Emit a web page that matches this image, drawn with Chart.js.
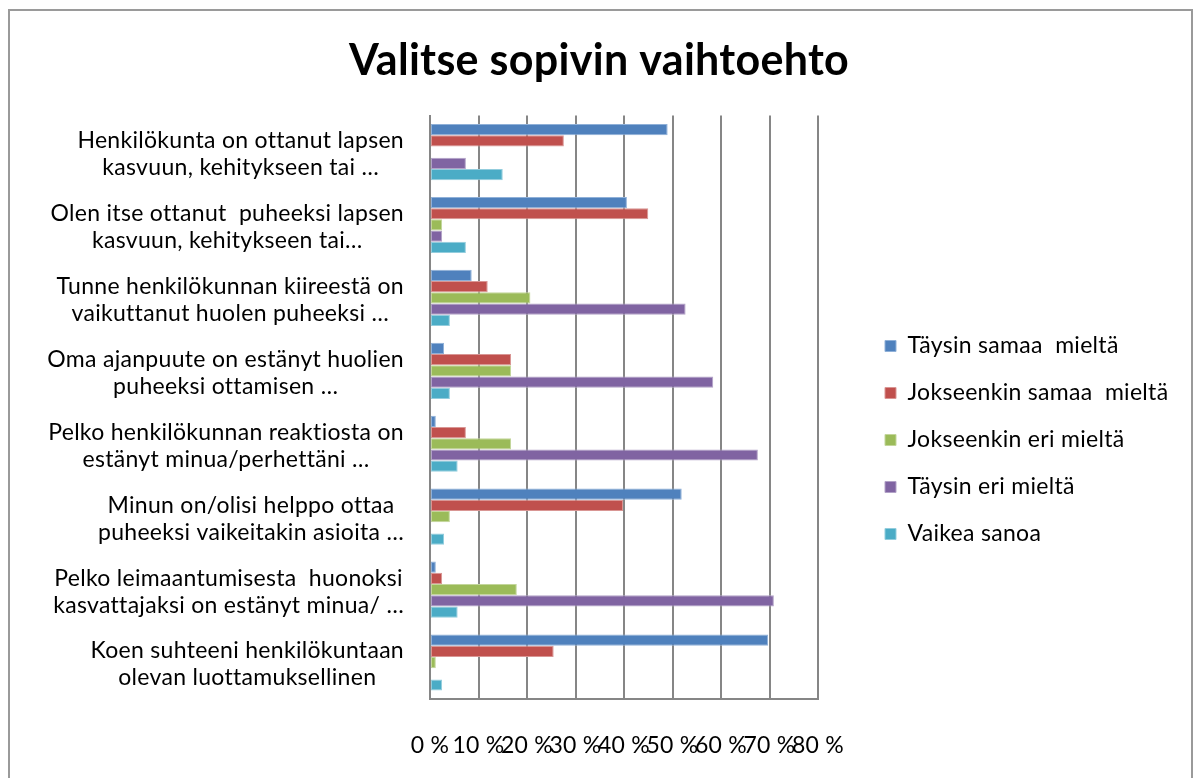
<!DOCTYPE html>
<html>
<head>
<meta charset="utf-8">
<script src="https://cdn.jsdelivr.net/npm/chart.js@4.4.1/dist/chart.umd.min.js"></script>
<style>
    html, body { margin: 0; padding: 0; background: #fff; }
    #wrap { position: relative; width: 1198px; height: 778px; overflow: hidden; }
    #frame { position: absolute; left: 8px; top: 9px; width: 1185px; height: 800px; border: 2px solid #9a9a9a; box-sizing: border-box; }
    #chart { position: absolute; left: 0; top: 0; }
</style>
</head>
<body>
<div id="wrap">
    <div id="frame"></div>
    <canvas id="chart" width="1198" height="778"></canvas>
</div>
<script>
// Kysymykset (kaksi riviä per kategoria)
const categories = [
    ['Henkilökunta on ottanut lapsen', 'kasvuun, kehitykseen tai …'],
    ['Olen itse ottanut  puheeksi lapsen', 'kasvuun, kehitykseen tai…'],
    ['Tunne henkilökunnan kiireestä on', 'vaikuttanut huolen puheeksi …'],
    ['Oma ajanpuute on estänyt huolien', 'puheeksi ottamisen …'],
    ['Pelko henkilökunnan reaktiosta on', 'estänyt minua/perhettäni …'],
    ['Minun on/olisi helppo ottaa', 'puheeksi vaikeitakin asioita …'],
    ['Pelko leimaantumisesta  huonoksi', 'kasvattajaksi on estänyt minua/ …'],
    ['Koen suhteeni henkilökuntaan', 'olevan luottamuksellinen']
];

// Sarjat (prosentteina)
const taysinSamaa = [49, 40.6, 8.6, 2.9, 1.2, 51.9, 1.2, 69.7];
const jokseenkinSamaa = [27.6, 45, 11.9, 16.7, 7.4, 39.8, 2.5, 25.5];
const jokseenkinEri = [0, 2.5, 20.7, 16.7, 16.7, 4.1, 17.9, 1.2];
const taysinEri = [7.4, 2.5, 52.7, 58.4, 67.6, 0, 70.9, 0];
const vaikeaSanoa = [15, 7.4, 4.1, 4.1, 5.7, 2.9, 5.7, 2.5];

const seriesNames = ['Täysin samaa  mieltä', 'Jokseenkin samaa  mieltä', 'Jokseenkin eri mieltä', 'Täysin eri mieltä', 'Vaikea sanoa'];
const xTicks = [0, 10, 20, 30, 40, 50, 60, 70, 80];

const colors = ['#4F81BD', '#C0504D', '#9BBB59', '#8064A2', '#4BACC6'];
const edgeColors = ['#8fb0d8', '#d99694', '#c3d69b', '#b2a2c7', '#93cddd'];
const FONT = 'Lato, "Open Sans", sans-serif';
const FONT_SIZE = 23;
const LETTER_SPACING = '0.3px';

const seriesData = [taysinSamaa, jokseenkinSamaa, jokseenkinEri, taysinEri, vaikeaSanoa];

// Kirjainväli (Calibri on leveämpi kuin Lato)
const spacingPlugin = {
    id: 'spacing',
    beforeLayout(chart) { chart.ctx.letterSpacing = LETTER_SPACING; },
    beforeDraw(chart) { chart.ctx.letterSpacing = LETTER_SPACING; }
};

// Selitteen paikka: kiinteä leveys ja siirto oikealle/alas
const legendPlacePlugin = {
    id: 'legendPlace',
    afterInit(chart) {
        const lg = chart.legend;
        if (!lg) return;
        const origFit = lg.fit.bind(lg);
        lg.fit = function() {
            origFit();
            this.width = 380;
        };
    },
    afterLayout(chart) {
        const lg = chart.legend;
        if (!lg) return;
        const dx = 43, dy = 51;
        lg.left += dx; lg.right += dx;
        lg.top += dy; lg.bottom += dy;
    }
};

// Kategoriatekstit: rivit keskitetty, lohko tasattu oikealle
const categoryLabelPlugin = {
    id: 'categoryLabels',
    afterDraw(chart) {
        const ctx = chart.ctx;
        const yScale = chart.scales.y;
        const rightEdge = chart.chartArea.left - 26;
        const lineGap = 27;
        ctx.save();
        ctx.font = FONT_SIZE + 'px ' + FONT;
        ctx.fillStyle = '#000';
        ctx.textAlign = 'center';
        ctx.textBaseline = 'middle';
        categories.forEach((lines, i) => {
            const yc = yScale.getPixelForTick(i) + 2;
            const maxW = Math.max(...lines.map(l => ctx.measureText(l).width));
            const xc = rightEdge - maxW / 2;
            lines.forEach((line, j) => {
                const y = yc + (j - (lines.length - 1) / 2) * lineGap;
                ctx.fillText(line, xc, y);
            });
        });
        ctx.restore();
    }
};

new Chart(document.getElementById('chart'), {
    type: 'bar',
    data: {
        labels: categories,
        datasets: seriesData.map((d, i) => ({
            label: seriesNames[i],
            data: d,
            backgroundColor: colors[i],
            borderColor: edgeColors[i],
            borderWidth: 1,
            borderSkipped: false,
            categoryPercentage: 0.77,
            barPercentage: 1.0
        }))
    },
    options: {
        indexAxis: 'y',
        responsive: false,
        animation: false,
        layout: { padding: 0 },
        plugins: {
            title: {
                display: true,
                text: 'Valitse sopivin vaihtoehto',
                color: '#000',
                font: { family: FONT, size: 43, weight: 'bold' },
                padding: { top: 35, bottom: 29 }
            },
            legend: {
                position: 'right',
                labels: {
                    color: '#000',
                    font: { family: FONT, size: FONT_SIZE },
                    boxWidth: 11,
                    boxHeight: 11,
                    padding: 24
                }
            },
            tooltip: { enabled: false }
        },
        scales: {
            x: {
                min: 0,
                max: 80,
                afterBuildTicks(scale) {
                    scale.ticks = xTicks.map(v => ({ value: v }));
                },
                afterFit(scale) { scale.height = 79; },
                grid: { color: '#868686', lineWidth: 2, drawTicks: false },
                border: { color: '#868686', width: 2 },
                ticks: {
                    autoSkip: false,
                    maxRotation: 0,
                    padding: 33,
                    color: '#000',
                    font: { family: FONT, size: FONT_SIZE },
                    callback: v => v + ' %'
                }
            },
            y: {
                afterFit(scale) { scale.width = 430; },
                grid: { display: false },
                border: { color: '#868686', width: 2 },
                ticks: { display: false }
            }
        }
    },
    plugins: [spacingPlugin, legendPlacePlugin, categoryLabelPlugin]
});
</script>
</body>
</html>
